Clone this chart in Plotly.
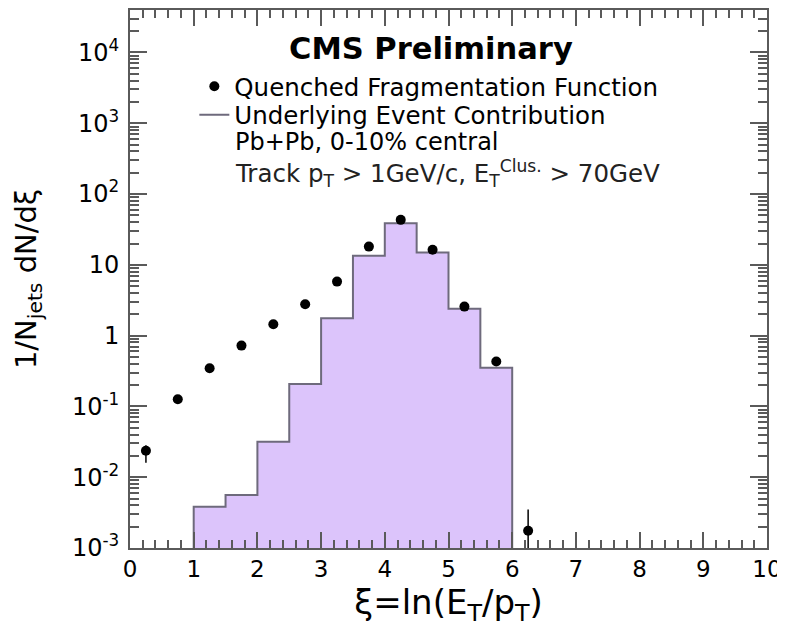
import plotly.graph_objects as go

# ---- data ----
xi_centers = [0.25, 0.75, 1.25, 1.75, 2.25, 2.75, 3.25, 3.75, 4.25, 4.75, 5.25, 5.75, 6.25]
ff_values = [0.0237, 0.126, 0.347, 0.723, 1.45, 2.78, 5.8, 18.1, 43.2, 16.3, 2.57, 0.43, 0.00175]
ff_err_up = [0.0045, 0, 0, 0, 0, 0, 0, 0, 0, 0, 0, 0, 0.00175]
ff_err_down = [0.0077, 0, 0, 0, 0, 0, 0, 0, 0, 0, 0, 0, 0.0012]

ue_edges = [1.0, 1.5, 2.0, 2.5, 3.0, 3.5, 4.0, 4.5, 5.0, 5.5, 6.0]
ue_values = [0.00384, 0.0056, 0.0318, 0.208, 1.76, 13.4, 38.8, 14.9, 2.39, 0.353]

x_ticks = [0, 1, 2, 3, 4, 5, 6, 7, 8, 9, 10]
y_tickvals = [1e-3, 1e-2, 1e-1, 1, 10, 1e2, 1e3, 1e4]
y_ticktext = ["10<sup>-3</sup>", "10<sup>-2</sup>", "10<sup>-1</sup>", "1", "10",
              "10<sup>2</sup>", "10<sup>3</sup>", "10<sup>4</sup>"]

Y_MIN_LOG = -3
Y_MAX_LOG = 4.6
y_floor = 10 ** Y_MIN_LOG

FONT = "DejaVu Sans"
FILL = "#dcc4fb"
EDGE = "#6e6a7c"
AXC = "#5a5a5a"

# derived geometry
bin_centers = [(a + b) / 2 for a, b in zip(ue_edges[:-1], ue_edges[1:])]
bin_widths = [b - a for a, b in zip(ue_edges[:-1], ue_edges[1:])]
step_x = [ue_edges[0]] + ue_edges[:-1] + [ue_edges[-1], ue_edges[-1]]
step_y = [y_floor] + ue_values + [ue_values[-1], y_floor]
y_minor = [d * 10.0 ** e for e in range(-3, 5) for d in range(2, 10)]

fig = go.Figure()

fig.add_trace(go.Bar(
    x=bin_centers, y=ue_values, width=bin_widths,
    marker=dict(color=FILL, line=dict(width=0)),
    showlegend=False, hoverinfo="skip",
))

fig.add_trace(go.Scatter(
    x=step_x, y=step_y, mode="lines", line=dict(shape="hv", color=EDGE, width=2),
    name="Underlying Event Contribution", legend="legend2",
))

fig.add_trace(go.Scatter(
    x=xi_centers, y=ff_values, mode="markers",
    marker=dict(color="black", size=10),
    error_y=dict(type="data", array=ff_err_up, arrayminus=ff_err_down,
                 color="black", thickness=1.5, width=0),
    name="Quenched Fragmentation Function", legend="legend",
))

# empty carriers so the frame axes (top / right / minor) get drawn
for ya in ["y2", "y3", "y4"]:
    fig.add_trace(go.Scatter(x=[None], y=[None], xaxis="x2", yaxis=ya, mode="markers",
                             marker=dict(opacity=0), showlegend=False, hoverinfo="skip"))

x_common = dict(
    range=[0, 10], tickvals=x_ticks, ticks="inside", ticklen=16, tickwidth=1.5,
    tickcolor=AXC, showline=True, linecolor=AXC, linewidth=2,
    showgrid=False, zeroline=False, automargin=False,
    minor=dict(ticks="inside", ticklen=8, dtick=0.2, tick0=0, tickcolor=AXC, tickwidth=1.5, showgrid=False),
)
y_common = dict(
    type="log", range=[Y_MIN_LOG, Y_MAX_LOG],
    ticks="inside", tickwidth=1.5, tickcolor=AXC,
    linecolor=AXC, linewidth=2,
    showgrid=False, zeroline=False, automargin=False,
)
legend_common = dict(xanchor="left", yanchor="middle", font=dict(size=24.5, family=FONT),
                     bgcolor="rgba(0,0,0,0)", itemwidth=30)

# body margin of the page (8px) is compensated in the margins below
fig.update_layout(
    width=785, height=627,
    margin=dict(l=122, r=26, t=2, b=87),
    paper_bgcolor="white", plot_bgcolor="white",
    font=dict(family=FONT, color="black"),
    bargap=0,
    showlegend=True,
    legend=dict(x=0.101, y=0.858, **legend_common),
    legend2=dict(x=0.101, y=0.805, **legend_common),
    xaxis=dict(
        **x_common,
        tickfont=dict(size=23, family=FONT),
        ticklabeloverflow="allow",
        title=dict(text="ξ=ln(E<sub>T</sub>/p<sub>T</sub>)", font=dict(size=34, family=FONT), standoff=0),
        ticklabelstandoff=-1,
    ),
    xaxis2=dict(**x_common, overlaying="x", side="top", anchor="y", showticklabels=False),
    yaxis=dict(
        **y_common,
        tickvals=y_tickvals, ticktext=y_ticktext, ticklen=17, showline=True,
        tickfont=dict(size=24, family=FONT),
        title=dict(text="1/N<sub>jets</sub> dN/dξ", font=dict(size=29, family=FONT), standoff=27),
        ticklabelstandoff=4,
    ),
    yaxis2=dict(**y_common, overlaying="y", side="left", anchor="x2", tickvals=y_minor,
                ticklen=9, showline=False, showticklabels=False),
    yaxis3=dict(**y_common, overlaying="y", side="right", anchor="x2", tickvals=y_tickvals,
                ticklen=17, showline=True, showticklabels=False),
    yaxis4=dict(**y_common, overlaying="y", side="right", anchor="x2", tickvals=y_minor,
                ticklen=9, showline=False, showticklabels=False),
)

fig.add_annotation(text="<b>CMS Preliminary</b>", xref="paper", yref="paper",
                   x=0.4725, y=0.928, xanchor="center", yanchor="middle",
                   showarrow=False, font=dict(size=30.5, family=FONT))
fig.add_annotation(text="Pb+Pb, 0-10% central", xref="paper", yref="paper",
                   x=0.162, y=0.754, xanchor="left", yanchor="middle",
                   showarrow=False, font=dict(size=24, family=FONT))
fig.add_annotation(text="Track p<sub>T</sub> > 1GeV/c, E<sub>T</sub><sup>Clus.</sup> > 70GeV",
                   xref="paper", yref="paper",
                   x=0.162, y=0.697, xanchor="left", yanchor="middle",
                   showarrow=False, font=dict(size=24.5, family=FONT, color="#222222"))

fig.write_html("out.html")
